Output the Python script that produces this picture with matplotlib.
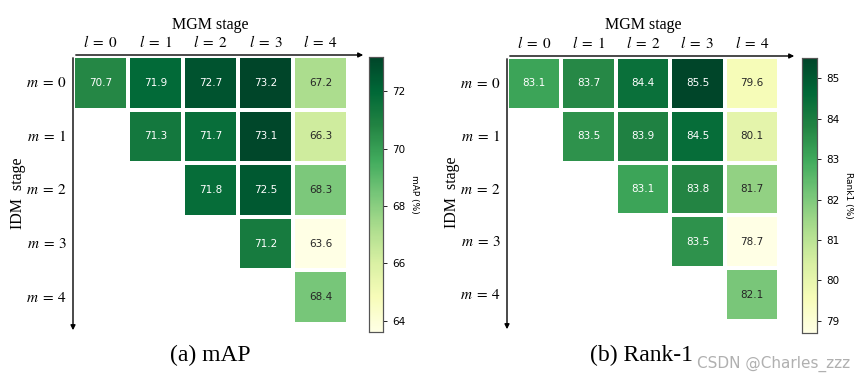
import numpy as np
import matplotlib
matplotlib.use("Agg")
import matplotlib.pyplot as plt
from matplotlib.patches import FancyArrowPatch
import seaborn as sns

plt.rcParams['mathtext.fontset'] = 'stix'

# data (rows: IDM stage m, cols: MGM stage l)
nan = np.nan
map_vals = np.array([
    [70.7, 71.9, 72.7, 73.2, 67.2],
    [nan, 71.3, 71.7, 73.1, 66.3],
    [nan, nan, 71.8, 72.5, 68.3],
    [nan, nan, nan, 71.2, 63.6],
    [nan, nan, nan, nan, 68.4],
])
rank1_vals = np.array([
    [83.1, 83.7, 84.4, 85.5, 79.6],
    [nan, 83.5, 83.9, 84.5, 80.1],
    [nan, nan, 83.1, 83.8, 81.7],
    [nan, nan, nan, 83.5, 78.7],
    [nan, nan, nan, nan, 82.1],
])
col_labels = [r'$l\;=\;%d$' % i for i in range(5)]
row_labels = [r'$m\;=\;%d$' % i for i in range(5)]

W, H = 865, 381
fig = plt.figure(figsize=(W / 100, H / 100), dpi=100)


def fx(px):
    return px / W


def fy(py):
    return 1 - py / H


serif = 'Liberation Serif'

panels = [
    # data, cbar label, caption, heatmap box (px), cbar box (px), arrow ends
    (map_vals, 'mAP (%)', '(a) mAP', (73, 56, 348, 324), (369, 57, 383, 332), 366, 333, 210),
    (rank1_vals, 'Rank1 (%)', '(b) Rank-1', (507, 57, 779, 321), (802, 58, 817, 333), 797, 332, 642),
]

for data, clabel, caption, hb, cb, xend, yend, capx in panels:
    ax = fig.add_axes([fx(hb[0]), fy(hb[3]), fx(hb[2] - hb[0]), (hb[3] - hb[1]) / H])
    cax = fig.add_axes([fx(cb[0]), fy(cb[3]), fx(cb[2] - cb[0]), (cb[3] - cb[1]) / H])
    sns.heatmap(data, ax=ax, cbar_ax=cax, cmap='YlGn', annot=True, fmt='.1f',
                annot_kws={'fontsize': 7.5}, linewidths=1.5, linecolor='white',
                mask=np.isnan(data), square=False)
    ax.xaxis.tick_top()
    ax.set_xticklabels(col_labels, fontsize=11, rotation=0)
    ax.set_yticklabels(row_labels, fontsize=11, rotation=0)
    ax.tick_params(length=0, pad=4)
    cax.tick_params(labelsize=7.5, length=3, width=0.6)
    cax.set_ylabel(clabel, rotation=270, fontsize=6.5, labelpad=10)
    for s in cax.spines.values():
        s.set_visible(True)
        s.set_edgecolor('#555555')
        s.set_linewidth(0.8)

    # arrows for the two stage axes
    x0, y0 = fx(hb[0]), fy(hb[1] - 1)
    fig.add_artist(FancyArrowPatch((x0, y0), (fx(xend), y0), transform=fig.transFigure,
                                   arrowstyle='-|>', mutation_scale=7, lw=1.0, color='black'))
    fig.add_artist(FancyArrowPatch((x0, y0), (x0, fy(yend)), transform=fig.transFigure,
                                   arrowstyle='-|>', mutation_scale=7, lw=1.0, color='black'))

    fig.text(fx((hb[0] + hb[2]) / 2), fy(25), 'MGM stage', family=serif, fontsize=11.5,
             ha='center', va='center')
    fig.text(fx(hb[0] - 55), fy((hb[1] + hb[3]) / 2 + 3), 'IDM  stage', family=serif,
             fontsize=11.5, rotation=90, ha='center', va='center')
    fig.text(fx(capx), fy(355), caption, family=serif, fontsize=17, ha='center', va='center')

fig.text(fx(850), fy(364), 'CSDN @Charles_zzz', fontsize=11, color='#b0b0b0',
         ha='right', va='center')

fig.savefig('out.png', dpi=100)
